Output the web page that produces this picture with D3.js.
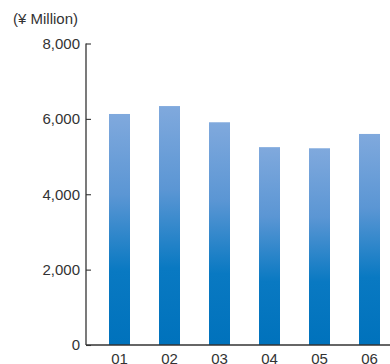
<!DOCTYPE html>
<html>
<head>
<meta charset="utf-8">
<script src="https://cdn.jsdelivr.net/npm/d3@7"></script>
<style>
  html, body { margin: 0; padding: 0; background: #fff; }
  svg { display: block; }
  text { font-family: "Liberation Sans", Arial, Helvetica, sans-serif; fill: #333; }
</style>
</head>
<body>
<svg id="chart" width="390" height="364"></svg>
<script>
// Fiscal years and sales (¥ Million)
const years = ["01", "02", "03", "04", "05", "06"];
const sales = [6130, 6340, 5910, 5250, 5220, 5600];
const yTicks = [0, 2000, 4000, 6000, 8000];
const unitLabel = "(¥ Million)";

const svg = d3.select("#chart");
const plotLeft = 86, plotTop = 43.5, plotBottom = 345, plotRight = 403;

const y = d3.scaleLinear().domain([0, 8000]).range([plotBottom, plotTop]);
const x = d3.scaleBand().domain(years).range([plotLeft, plotRight])
  .paddingInner(0.58).paddingOuter(0.46);

// Vertical gradient for the bars
const defs = svg.append("defs");
const grad = defs.append("linearGradient")
  .attr("id", "barGrad").attr("x1", 0).attr("y1", 0).attr("x2", 0).attr("y2", 1);
grad.append("stop").attr("offset", "0%").attr("stop-color", "#80a9dd");
grad.append("stop").attr("offset", "35%").attr("stop-color", "#5b96d4");
grad.append("stop").attr("offset", "68%").attr("stop-color", "#0979c2");
grad.append("stop").attr("offset", "100%").attr("stop-color", "#0072bc");

svg.append("g").selectAll("rect").data(sales).join("rect")
  .attr("x", (d, i) => x(years[i]))
  .attr("y", d => y(d))
  .attr("width", x.bandwidth())
  .attr("height", d => y(0) - y(d))
  .attr("fill", "url(#barGrad)");

// Y axis with inward ticks
const yAxis = svg.append("g")
  .attr("transform", `translate(${plotLeft},0)`)
  .call(d3.axisLeft(y).tickValues(yTicks).tickSize(-5).tickPadding(6)
    .tickFormat(d3.format(",")));
yAxis.select(".domain").attr("stroke", "#333").attr("stroke-width", 1.3)
  .attr("d", `M0,${plotTop}V${plotBottom}`);
yAxis.selectAll(".tick line").attr("stroke", "#333").attr("stroke-width", 1.1);
yAxis.selectAll(".tick text").attr("font-size", 15).attr("fill", "#333")
  .style("font-family", "'Liberation Sans', Arial, sans-serif");

// X axis baseline and year labels
const xAxis = svg.append("g")
  .attr("transform", `translate(0,${plotBottom})`)
  .call(d3.axisBottom(x).tickSize(0).tickPadding(8));
xAxis.select(".domain").attr("stroke", "#333").attr("stroke-width", 1.5)
  .attr("d", `M${plotLeft},0H390`);
xAxis.selectAll(".tick text").attr("font-size", 15).attr("fill", "#333")
  .style("font-family", "'Liberation Sans', Arial, sans-serif");

// Unit label
svg.append("text")
  .attr("x", 13).attr("y", 24)
  .attr("font-size", 15)
  .text(unitLabel);
</script>
</body>
</html>
